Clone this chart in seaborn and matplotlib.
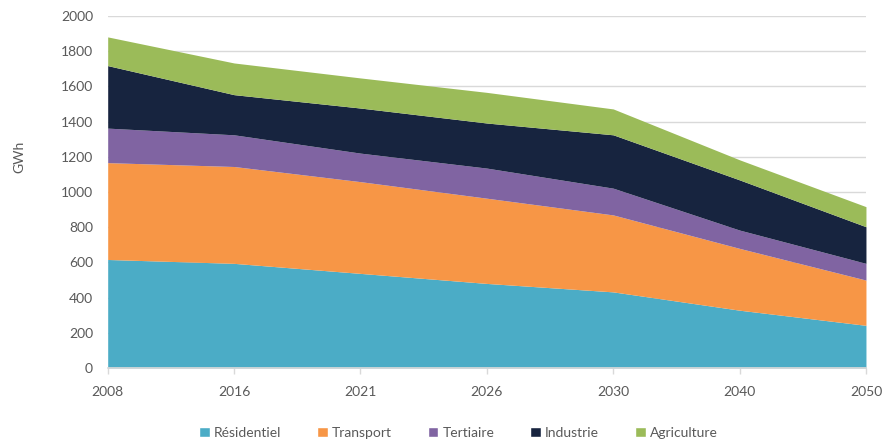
import matplotlib
matplotlib.use("Agg")
import matplotlib.pyplot as plt
import seaborn as sns
import numpy as np
from matplotlib.patches import Patch

years = ["2008", "2016", "2021", "2026", "2030", "2040", "2050"]
residentiel = [617, 595, 538, 481, 433, 329, 243]
transport = [550, 550, 521, 484, 437, 351, 257]
tertiaire = [196, 180, 162, 171, 152, 104, 95]
industrie = [355, 228, 256, 256, 303, 285, 208]
agriculture = [163, 180, 171, 174, 147, 114, 114]

labels = ["Résidentiel", "Transport", "Tertiaire", "Industrie", "Agriculture"]
colors = ["#4BACC6", "#F79646", "#8064A2", "#17243F", "#9BBB59"]

sns.set_theme(style="white")
plt.rcParams['font.family'] = ['Lato', 'DejaVu Sans']

fig = plt.figure(figsize=(8.9, 4.43), dpi=100)
ax = fig.add_axes([0.121, 0.169, 0.852, 0.795])

x = np.arange(len(years))
ax.stackplot(x, residentiel, transport, tertiaire, industrie, agriculture,
             colors=colors, linewidth=0, zorder=2)

ax.set_xlim(0, len(years) - 1)
ax.set_ylim(0, 2000)
ax.set_yticks(np.arange(0, 2001, 200))
ax.set_xticks(x)
ax.set_xticklabels(years)
ax.yaxis.grid(True, color="#D9D9D9", linewidth=1, zorder=0)
ax.set_axisbelow(True)
sns.despine(ax=ax, left=True, top=True, right=True)
ax.spines['bottom'].set_color("#D9D9D9")
ax.tick_params(axis='x', colors="#595959", labelsize=10, length=4, width=1,
               direction='out', bottom=True, color="#D9D9D9", pad=9)
ax.tick_params(axis='y', colors="#595959", labelsize=10, length=0, pad=10.5)
ax.set_ylabel("GWh", color="#595959", fontsize=10)
ax.yaxis.set_label_coords(-0.108, 0.60)

handles = [Patch(facecolor=c, label=l) for c, l in zip(colors, labels)]
fig.legend(handles=handles, loc="center", bbox_to_anchor=(0.515, 0.022),
           ncol=5, frameon=False, fontsize=10, handlelength=0.75, handleheight=0.75,
           handletextpad=0.3, columnspacing=2.6, labelcolor="#595959")

fig.savefig("out.png", dpi=100)
